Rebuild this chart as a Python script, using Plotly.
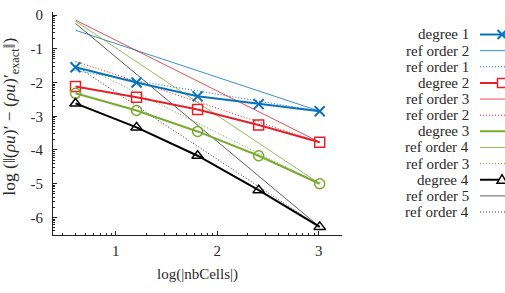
import plotly.graph_objects as go

# ---- data (log10 values) ----
nb_cells = [4, 16, 64, 256, 1024]
deg1 = [-1.55, -2.00, -2.41, -2.64, -2.85]
deg2 = [-2.12, -2.44, -2.80, -3.26, -3.77]
deg3 = [-2.32, -2.83, -3.45, -4.17, -5.00]
deg4 = [-2.62, -3.33, -4.17, -5.19, -6.28]

ref_x = [4, 1024]
ref1_o2 = [-0.45, -2.85]
ref1_o1 = [-1.65, -2.85]
ref2_o3 = [-0.15, -3.77]
ref2_o2 = [-1.37, -3.77]
ref3_o4 = [-0.18, -5.00]
ref3_o3 = [-1.40, -5.00]
ref4_o5 = [-0.25, -6.28]
ref4_o4 = [-1.50, -6.28]

x_tickvals = [10, 100, 1000]
x_ticktext = ["1", "2", "3"]
y_tickexp = [0, -1, -2, -3, -4, -5, -6]

BLUE = "#0a72bd"
RED = "#e3222a"
GREEN = "#77ac30"
BLACK = "#000000"
FONT = "Liberation Serif, Times New Roman, serif"
TXT = "#2a2a2a"
FS = 15
DOT = "1px,2px"

W, H = 505, 293
ML, MR, MT, MB = 53, 163, 7, 58
PW, PH = W - ML - MR, H - MT - MB


def pxx(x):
    return (x - ML) / PW


def pxy(y):
    return (H - MB - y) / PH


def tenpow(v):
    return [10 ** a for a in v]


MK = {
    "x": dict(symbol="x-thin", size=10, line=dict(color=BLUE, width=2)),
    "sq": dict(symbol="square-open", size=10, color=RED, line=dict(color=RED, width=1.5)),
    "ci": dict(symbol="circle-open", size=10, color=GREEN, line=dict(color=GREEN, width=1.5)),
    "tr": dict(symbol="triangle-up-open", size=10, color=BLACK, line=dict(color=BLACK, width=1.5)),
}

series = [
    # name, x, y, color, width, dash, marker key
    ("degree 1", nb_cells, deg1, BLUE, 2, "solid", "x"),
    ("ref order 2", ref_x, ref1_o2, BLUE, 0.8, "solid", None),
    ("ref order 1", ref_x, ref1_o1, BLUE, 1, DOT, None),
    ("degree 2", nb_cells, deg2, RED, 2, "solid", "sq"),
    ("ref order 3", ref_x, ref2_o3, RED, 0.8, "solid", None),
    ("ref order 2", ref_x, ref2_o2, RED, 1, DOT, None),
    ("degree 3", nb_cells, deg3, GREEN, 2, "solid", "ci"),
    ("ref order 4", ref_x, ref3_o4, GREEN, 0.8, "solid", None),
    ("ref order 3", ref_x, ref3_o3, GREEN, 1, DOT, None),
    ("degree 4", nb_cells, deg4, BLACK, 2, "solid", "tr"),
    ("ref order 5", ref_x, ref4_o5, "#333333", 0.8, "solid", None),
    ("ref order 4", ref_x, ref4_o4, "#333333", 1, DOT, None),
]

fig = go.Figure()

order = [i for i, s in enumerate(series) if s[6] is None] + [i for i, s in enumerate(series) if s[6] is not None]
for i in order:
    name, xs, ys, col, w, dash, mk = series[i]
    fig.add_trace(go.Scatter(
        x=xs, y=tenpow(ys), name=name,
        mode="lines+markers" if mk else "lines",
        line=dict(color=col, width=w, dash=dash),
        marker=MK[mk] if mk else None, showlegend=False, cliponaxis=False,
    ))

# ---- manual legend (text left, glyph right) ----
row0, row_step = 30, 16.5
text_right = 471
line_x0, line_x1 = 480, 525
mark_x = 502

GLYPH = {
    "x": ("M-4.5,-4.5 L4.5,4.5 M-4.5,4.5 L4.5,-4.5", 2),
    "sq": ("M-4.5,-4.5 L4.5,-4.5 L4.5,4.5 L-4.5,4.5 Z", 1.5),
    "ci": ("M4.8,0 A4.8,4.8 0 1,1 -4.8,0 A4.8,4.8 0 1,1 4.8,0 Z", 1.5),
    "tr": ("M-5,-3.5 L5,-3.5 L0,5 Z", 1.5),
}

shapes = []
annotations = []
for k, (name, xs, ys, col, w, dash, mk) in enumerate(series):
    yp = row0 + k * row_step
    annotations.append(dict(
        x=pxx(text_right), y=pxy(yp), xref="paper", yref="paper",
        text=name, showarrow=False, xanchor="right", yanchor="middle",
        font=dict(family=FONT, size=FS, color=TXT),
    ))
    shapes.append(dict(
        type="line", xref="paper", yref="paper",
        x0=pxx(line_x0), x1=pxx(line_x1), y0=pxy(yp), y1=pxy(yp),
        line=dict(color=col, width=w, dash=dash),
    ))
    if mk:
        path, lw = GLYPH[mk]
        shapes.append(dict(
            type="path", xref="paper", yref="paper",
            xsizemode="pixel", ysizemode="pixel",
            xanchor=pxx(mark_x), yanchor=pxy(yp),
            path=path, fillcolor="white" if mk != "x" else None,
            line=dict(color=col, width=lw),
        ))

# y axis title
annotations.append(dict(
    x=pxx(11), y=pxy(114), xref="paper", yref="paper",
    text="log (‖(<i>ρu</i>)′ − (<i>ρu</i>)′<sub>exact</sub>‖)",
    textangle=-90, showarrow=False, xanchor="center", yanchor="middle",
    font=dict(family=FONT, size=17.5, color=TXT),
))
# x axis title
annotations.append(dict(
    x=pxx(197), y=pxy(275), xref="paper", yref="paper",
    text="log(|nbCells|)", showarrow=False, xanchor="center", yanchor="middle",
    font=dict(family=FONT, size=FS, color=TXT),
))

axis_common = dict(
    showgrid=False, zeroline=False, showline=True, linecolor="#222", linewidth=1,
    ticks="inside", ticklen=4, tickcolor="#222", mirror=False,
    tickfont=dict(family=FONT, size=FS, color=TXT),
)

fig.update_layout(
    width=W, height=H,
    margin=dict(l=ML, r=MR, t=MT, b=MB, pad=0),
    paper_bgcolor="white", plot_bgcolor="white",
    showlegend=False,
    xaxis=dict(
        type="log", range=[0.38, 3.23],
        tickmode="array", tickvals=x_tickvals, ticktext=x_ticktext,
        ticklabelstandoff=2,
        minor=dict(ticks="inside", ticklen=2, dtick="D1", tickcolor="#222", showgrid=False),
        **axis_common,
    ),
    yaxis=dict(
        type="log", range=[-6.52, 0.09],
        tickmode="array", tickvals=[10 ** e for e in y_tickexp], ticktext=[str(e) for e in y_tickexp],
        ticklabelstandoff=6,
        minor=dict(ticks="inside", ticklen=2, dtick="D1", tickcolor="#222", showgrid=False),
        **axis_common,
    ),
    shapes=shapes,
    annotations=annotations,
)

fig.write_html("out.html")
